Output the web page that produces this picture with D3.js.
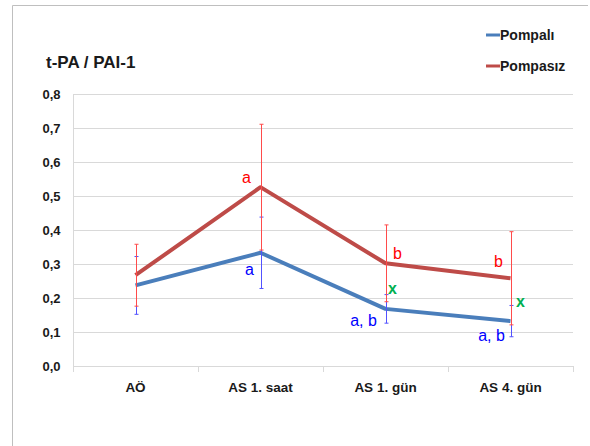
<!DOCTYPE html>
<html><head><meta charset="utf-8">
<script src="https://cdn.jsdelivr.net/npm/d3@7"></script>
<style>body{margin:0;background:#fff}svg{display:block}</style>
</head><body><svg id="c" width="590" height="446"></svg>
<script>
const categories = ["AÖ", "AS 1. saat", "AS 1. gün", "AS 4. gün"];
const seriesNames = ["Pompalı", "Pompasız"];
const pompali = [0.237, 0.333, 0.168, 0.132];
const pompaliErr = [0.085, 0.105, 0.042, 0.046];
const pompasiz = [0.267, 0.526, 0.302, 0.258];
const pompasizErr = [0.091, 0.185, 0.113, 0.137];
const yTicks = [0, 0.1, 0.2, 0.3, 0.4, 0.5, 0.6, 0.7, 0.8];
const annotations = [
  {cat: "AS 1. saat", v: 0.553, text: "a", dx: -14, kind: "red"},
  {cat: "AS 1. saat", v: 0.285, text: "a", dx: -11, kind: "blue"},
  {cat: "AS 1. gün", v: 0.332, text: "b", dx: 12, kind: "red"},
  {cat: "AS 1. gün", v: 0.229, text: "x", dx: 7, kind: "green"},
  {cat: "AS 1. gün", v: 0.135, text: "a, b", dx: -22, kind: "blue"},
  {cat: "AS 4. gün", v: 0.306, text: "b", dx: -12, kind: "red"},
  {cat: "AS 4. gün", v: 0.191, text: "x", dx: 10, kind: "green"},
  {cat: "AS 4. gün", v: 0.091, text: "a, b", dx: -19, kind: "blue"}
];

(function () {
const svg = d3.select("#c");
const font = "'Liberation Sans', Arial, sans-serif";
const pLeft = 73, pRight = 573, pTop = 94, pBottom = 366;

// frame
svg.append("path").attr("d", "M12.5,446 V5.5 H588").attr("fill", "none").attr("stroke", "#bfbfbf").attr("stroke-width", 1);

const x = d3.scaleBand().domain(categories).range([pLeft, pRight]);
const y = d3.scaleLinear().domain([0, 0.8]).range([pBottom, pTop]);
const cx = c => x(c) + x.bandwidth() / 2;

// gridlines
svg.append("g").selectAll("line").data(yTicks.slice(1)).join("line")
  .attr("x1", pLeft).attr("x2", pRight)
  .attr("y1", d => Math.round(y(d)) + 0.5).attr("y2", d => Math.round(y(d)) + 0.5)
  .attr("stroke", "#d9d9d9").attr("stroke-width", 1);

// y axis
const yAxis = svg.append("g").attr("transform", `translate(${pLeft + 0.5},0)`)
  .call(d3.axisLeft(y).tickValues(yTicks).tickSize(0).tickPadding(13)
    .tickFormat(d => d3.format(".1f")(d).replace(".", ",")));
yAxis.select(".domain").attr("stroke", "#d9d9d9").attr("d", `M0,${pTop} V${pBottom}`);
yAxis.selectAll("text").attr("font-family", font).attr("font-weight", "bold")
  .attr("font-size", "13px").attr("fill", "#1a1a1a");

// x axis
const xAxis = svg.append("g").attr("transform", `translate(0,${pBottom + 0.5})`)
  .call(d3.axisBottom(x).tickSize(0).tickPadding(16));
xAxis.select(".domain").attr("stroke", "#d9d9d9").attr("d", `M${pLeft},0 H${pRight}`);
xAxis.selectAll("text").attr("font-family", font).attr("font-weight", "bold")
  .attr("font-size", "13.5px").attr("fill", "#1a1a1a");
svg.append("g").selectAll("line").data(d3.range(categories.length + 1)).join("line")
  .attr("x1", i => pLeft + i * x.step() + 0.5).attr("x2", i => pLeft + i * x.step() + 0.5)
  .attr("y1", pBottom).attr("y2", pBottom + 6).attr("stroke", "#d9d9d9");

// lines
const line = d3.line().x((d, i) => cx(categories[i])).y(d => y(d));
svg.append("path").datum(pompali).attr("d", line).attr("fill", "none")
  .attr("stroke", "#4a7ebb").attr("stroke-width", 4).attr("stroke-linejoin", "round");
svg.append("path").datum(pompasiz).attr("d", line).attr("fill", "none")
  .attr("stroke", "#be4b48").attr("stroke-width", 4).attr("stroke-linejoin", "round");

// error bars
function errBars(vals, errs, color) {
  const g = svg.append("g").attr("stroke", color).attr("stroke-width", 1).attr("fill", "none");
  vals.forEach((v, i) => {
    const xx = Math.round(cx(categories[i])) + 0.5;
    const y1 = y(v + errs[i]), y2 = y(v - errs[i]);
    g.append("line").attr("x1", xx).attr("x2", xx).attr("y1", y1).attr("y2", y2);
    g.append("line").attr("x1", xx - 2).attr("x2", xx + 2).attr("y1", y1).attr("y2", y1);
    g.append("line").attr("x1", xx - 2).attr("x2", xx + 2).attr("y1", y2).attr("y2", y2);
  });
}
errBars(pompali, pompaliErr, "#5252ff");
errBars(pompasiz, pompasizErr, "#ff4b4b");

// annotations
const annColor = {red: "#ff0000", blue: "#0000ff", green: "#00b050"};
svg.append("g").selectAll("text").data(annotations).join("text")
  .attr("x", d => cx(d.cat) + d.dx).attr("y", d => y(d.v))
  .attr("text-anchor", "middle").attr("dominant-baseline", "central")
  .attr("font-family", font).attr("font-size", "16px")
  .attr("font-weight", d => d.kind === "green" ? "bold" : "normal")
  .attr("fill", d => annColor[d.kind]).text(d => d.text);

// title
svg.append("text").attr("x", 46).attr("y", 68).attr("font-family", font)
  .attr("font-weight", "bold").attr("font-size", "17px").attr("fill", "#1a1a1a").text("t-PA / PAI-1");

// legend
const legColors = ["#4a7ebb", "#be4b48"];
const leg = svg.append("g").selectAll("g").data(seriesNames).join("g")
  .attr("transform", (d, i) => `translate(486,${35 + i * 31})`);
leg.append("line").attr("x1", 0).attr("x2", 14).attr("y1", 0).attr("y2", 0)
  .attr("stroke", (d, i) => legColors[i]).attr("stroke-width", 3);
leg.append("text").attr("x", 14).attr("y", 0).attr("dominant-baseline", "central")
  .attr("font-family", font).attr("font-weight", "bold").attr("font-size", "14px")
  .attr("fill", "#1a1a1a").text(d => d);
})();
</script></body></html>
